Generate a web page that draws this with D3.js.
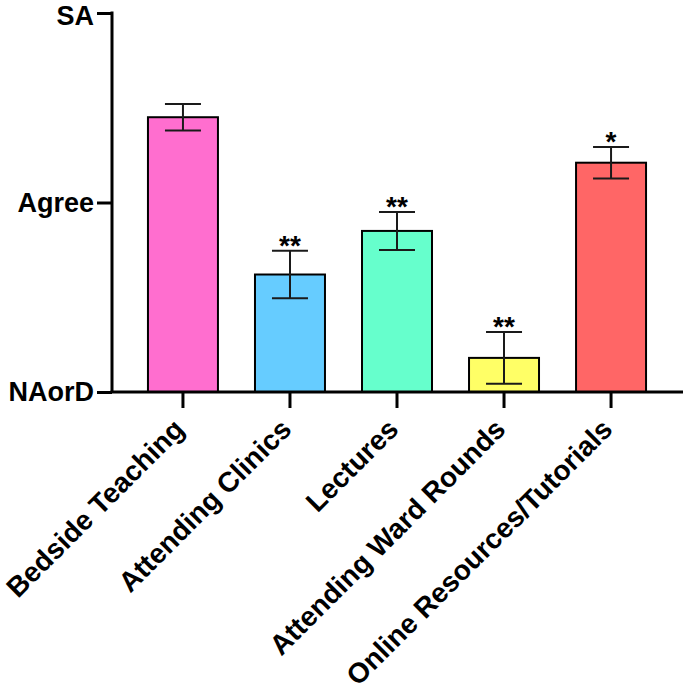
<!DOCTYPE html>
<html>
<head>
<meta charset="utf-8">
<script src="https://cdn.jsdelivr.net/npm/d3@7"></script>
<style>
  html, body { margin: 0; padding: 0; background: #fff; }
  svg { display: block; }
  text { font-family: "Liberation Sans", Arial, Helvetica, sans-serif; font-weight: bold; fill: #000; }
</style>
</head>
<body>
<svg id="chart" width="685" height="694"></svg>
<script>
const categories = ["Bedside Teaching", "Attending Clinics", "Lectures", "Attending Ward Rounds", "Online Resources/Tutorials"];
const means = [4.45, 3.62, 3.85, 3.18, 4.21];
const errors = [0.07, 0.125, 0.1, 0.137, 0.083];
const significance = ["", "**", "**", "**", "*"];
const barColors = ["#FF6ECF", "#66CCFF", "#66FFCC", "#FFFF66", "#FF6666"];
const yTickValues = [3, 4, 5];
const yTickLabels = ["NAorD", "Agree", "SA"];

const svg = d3.select("#chart");
const plotLeft = 112, plotRight = 683, plotTop = 13, plotBottom = 392;

const x = d3.scaleBand().domain(categories).range([plotLeft, plotRight - 1])
  .paddingInner(0.346).paddingOuter(0.336);
const y = d3.scaleLinear().domain([3, 5]).range([plotBottom, plotTop]);

const data = categories.map((c, i) => ({ c, m: means[i], e: errors[i], s: significance[i], col: barColors[i] }));

// Bars
svg.append("g").selectAll("rect").data(data).join("rect")
  .attr("x", d => x(d.c))
  .attr("y", d => y(d.m))
  .attr("width", x.bandwidth())
  .attr("height", d => y(3) - y(d.m))
  .attr("fill", d => d.col)
  .attr("stroke", "#000")
  .attr("stroke-width", 2);

// Error bars
const eb = svg.append("g").attr("stroke", "#1a1a1a").attr("stroke-width", 2).attr("fill", "none");
const capHalf = 18;
data.forEach(d => {
  const cx = x(d.c) + x.bandwidth() / 2;
  eb.append("line").attr("x1", cx).attr("x2", cx).attr("y1", y(d.m + d.e)).attr("y2", y(d.m - d.e));
  eb.append("line").attr("x1", cx - capHalf).attr("x2", cx + capHalf).attr("y1", y(d.m + d.e)).attr("y2", y(d.m + d.e));
  eb.append("line").attr("x1", cx - capHalf).attr("x2", cx + capHalf).attr("y1", y(d.m - d.e)).attr("y2", y(d.m - d.e));
});

// Significance stars
svg.append("g").selectAll("text").data(data.filter(d => d.s)).join("text")
  .attr("x", d => x(d.c) + x.bandwidth() / 2)
  .attr("y", d => y(d.m + d.e) + 4)
  .attr("text-anchor", "middle")
  .style("font-size", "28px")
  .text(d => d.s);

// Y axis
const yAxis = d3.axisLeft(y).tickValues(yTickValues)
  .tickFormat((d, i) => yTickLabels[i]).tickSize(15).tickPadding(3);
const gy = svg.append("g").attr("transform", `translate(${plotLeft},0)`).call(yAxis);
gy.select(".domain").attr("stroke", "#000").attr("stroke-width", 3)
  .attr("d", `M0,${plotTop - 1.5}V${plotBottom}`);
gy.selectAll(".tick line").attr("stroke", "#000").attr("stroke-width", 3);
gy.selectAll(".tick text").style("font-size", "27px").style("font-family", "'Liberation Sans', Arial, sans-serif").style("font-weight", "bold").attr("fill", "#000");
// keep the top label inside the canvas
gy.selectAll(".tick text").filter(d => d === 5).attr("y", 3);

// X axis
const xAxis = d3.axisBottom(x).tickSize(16).tickFormat("");
const gx = svg.append("g").attr("transform", `translate(0,${plotBottom})`).call(xAxis);
gx.select(".domain").attr("stroke", "#000").attr("stroke-width", 3)
  .attr("d", `M${plotLeft - 1.5},0H${plotRight}`);
gx.selectAll(".tick line").attr("stroke", "#000").attr("stroke-width", 3);

// X labels rotated
svg.append("g").selectAll("text").data(categories).join("text")
  .attr("transform", d => `translate(${x(d) + x.bandwidth() / 2 + 3},${plotBottom + 39}) rotate(-45)`)
  .attr("text-anchor", "end")
  .style("font-size", "28px")
  .text(d => d);
</script>
</body>
</html>
